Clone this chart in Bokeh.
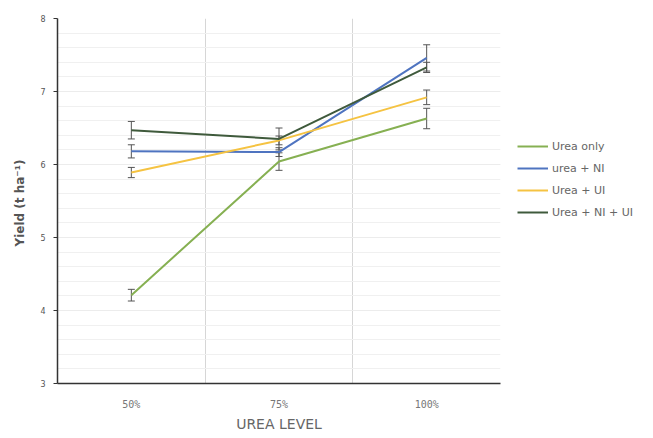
import numpy as np
from bokeh.plotting import figure
from bokeh.layouts import row
from bokeh.models import (ColumnDataSource, Whisker, Legend, LegendItem, FixedTicker,
                          SingleIntervalTicker, Range1d)
from bokeh.embed import file_html
from bokeh.resources import INLINE

categories = ["50%", "75%", "100%"]
series_names = ["Urea only", "urea + NI", "Urea + UI", "Urea + NI + UI"]
urea_only = [4.21, 6.04, 6.63]
urea_ni = [6.18, 6.17, 7.46]
urea_ui = [5.89, 6.33, 6.92]
urea_ni_ui = [6.47, 6.35, 7.33]
err_urea_only = [0.08, 0.12, 0.14]
err_urea_ni = [0.09, 0.06, 0.18]
err_urea_ui = [0.07, 0.06, 0.10]
err_urea_ni_ui = [0.12, 0.15, 0.07]
y_ticks = [3, 4, 5, 6, 7, 8]

colors = ["#86b052", "#4f74c0", "#f5c342", "#3f5a3c"]
values = [urea_only, urea_ni, urea_ui, urea_ni_ui]
errors = [err_urea_only, err_urea_ni, err_urea_ui, err_urea_ni_ui]

xpos = np.arange(len(categories)) + 0.5

p = figure(width=501, height=438, output_backend="svg", toolbar_location=None,
           x_range=Range1d(0, len(categories)), y_range=Range1d(3, 8),
           min_border_left=57, min_border_right=1, min_border_top=18, min_border_bottom=55)
p.outline_line_color = None
p.background_fill_color = "white"

# axes
p.xaxis.ticker = FixedTicker(ticks=list(xpos))
p.xaxis.major_label_overrides = {float(x): c for x, c in zip(xpos, categories)}
p.xaxis.major_tick_line_color = None
p.xaxis.minor_tick_line_color = None
p.xaxis.axis_line_color = "#333333"
p.xaxis.axis_line_width = 1.5
p.xaxis.major_label_text_font = "DejaVu Sans Mono"
p.xaxis.major_label_text_font_size = "10px"
p.xaxis.major_label_text_color = "#777777"
p.xaxis.major_label_standoff = 9
p.xaxis.axis_label = "UREA LEVEL"
p.xaxis.axis_label_text_font = "DejaVu Sans"
p.xaxis.axis_label_text_font_style = "normal"
p.xaxis.axis_label_text_font_size = "14px"
p.xaxis.axis_label_text_color = "#666666"
p.xaxis.axis_label_standoff = 3

p.yaxis.ticker = FixedTicker(ticks=y_ticks)
p.yaxis.axis_line_color = "#333333"
p.yaxis.axis_line_width = 1.5
p.yaxis.major_tick_line_color = "#333333"
p.yaxis.major_tick_in = 0
p.yaxis.major_tick_out = 4
p.yaxis.minor_tick_line_color = None
p.yaxis.major_label_text_font = "DejaVu Sans"
p.yaxis.major_label_text_font_size = "8px"
p.yaxis.major_label_text_color = "#555555"
p.yaxis.major_label_standoff = 8
p.yaxis.axis_label = "Yield  (t ha\u207b\u00b9)"
p.yaxis.axis_label_text_font = "DejaVu Sans"
p.yaxis.axis_label_text_font_style = "bold"
p.yaxis.axis_label_text_font_size = "12px"
p.yaxis.axis_label_text_color = "#555555"
p.yaxis.axis_label_standoff = 10

# grids
p.xgrid.ticker = FixedTicker(ticks=list(np.arange(1, len(categories) + 1)))
p.xgrid.grid_line_color = "#d6d6d6"
p.xgrid.grid_line_width = 1
p.ygrid.ticker = SingleIntervalTicker(interval=1, num_minor_ticks=5)
p.ygrid.grid_line_color = "#ececec"
p.ygrid.minor_grid_line_color = "#f0f0f0"

for name, vals, errs, col in zip(series_names, values, errors, colors):
    v = np.array(vals)
    e = np.array(errs)
    src = ColumnDataSource(dict(x=xpos, y=v, lo=v - e, hi=v + e))
    p.line("x", "y", source=src, line_color=col, line_width=2)
    w = Whisker(base="x", lower="lo", upper="hi", source=src, dimension="height",
                line_color="#555555", line_width=1)
    w.upper_head.size = 7
    w.lower_head.size = 7
    w.upper_head.line_color = "#555555"
    w.lower_head.line_color = "#555555"
    p.add_layout(w)

# legend panel to the right of the chart (proxy lines re-use the same series data,
# placed outside this panel's visible range so only the legend glyphs show)
pl = figure(width=152, height=438, output_backend="svg", toolbar_location=None,
            x_range=Range1d(100, 101), y_range=Range1d(100, 101),
            min_border=0, x_axis_type=None, y_axis_type=None)
pl.outline_line_color = None
pl.xgrid.visible = False
pl.ygrid.visible = False
items = []
for name, vals, col in zip(series_names, values, colors):
    r = pl.line(xpos, vals, line_color=col, line_width=2)
    items.append(LegendItem(label=name, renderers=[r]))

legend = Legend(items=items, location=(16, 161), orientation="vertical",
                padding=0, margin=0, spacing=2, glyph_width=31, glyph_height=20,
                label_height=20, label_standoff=4,
                label_text_font="DejaVu Sans", label_text_font_size="11px",
                label_text_color="#666666",
                background_fill_alpha=0, border_line_color=None)
pl.add_layout(legend, "center")

layout = row(p, pl, spacing=0)
open("out.html", "w").write(file_html(layout, INLINE))
